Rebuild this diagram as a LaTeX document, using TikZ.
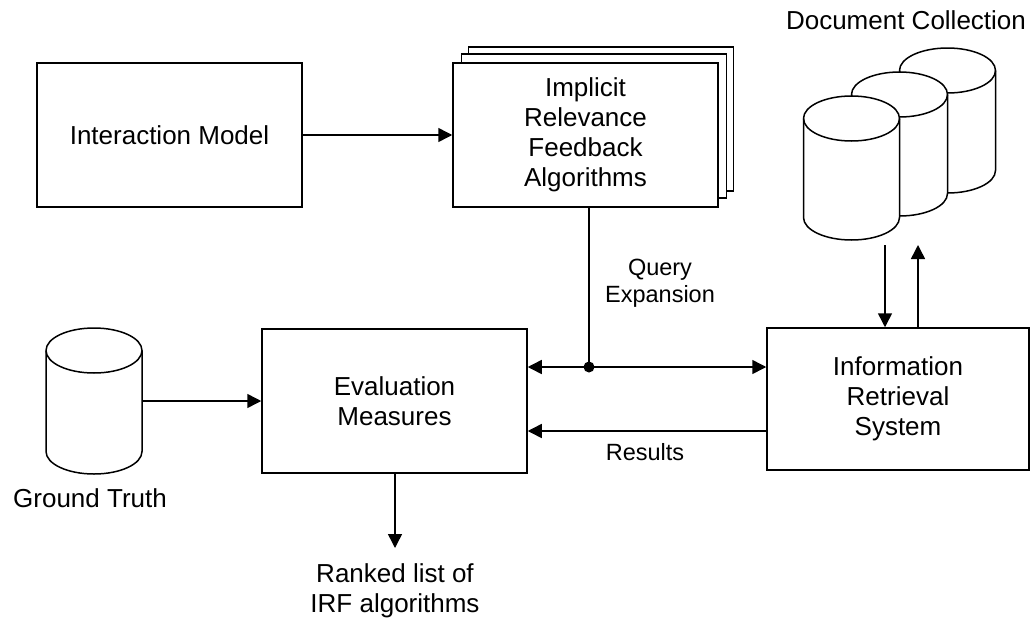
\documentclass[tikz,border=0pt]{standalone}
\usepackage{fontspec}
\setmainfont{Liberation Sans}
\usetikzlibrary{arrows.meta,calc}
\newcommand\dbcyl[4]{%
  \path[draw=black,line width=1.5pt,fill=white] (#1-48,#2) -- (#1-48,#3)
    arc[start angle=180,end angle=360,x radius=48,y radius=22.5] -- (#1+48,#2)
    arc[start angle=0,end angle=180,x radius=48,y radius=22.5] -- cycle;
  \draw[line width=1.5pt] (#1-48,#2) arc[start angle=180,end angle=360,x radius=48,y radius=22.5];
  \coordinate (#4) at (#1,#3);}
\begin{document}
\begin{tikzpicture}[x=1pt,y=1pt,
  box/.style={draw,line width=1.5pt,fill=white,minimum width=265pt,minimum height=144pt,inner sep=0pt,
    align=center,font=\fontsize{26}{30}\selectfont},
  lbl/.style={align=center,font=\fontsize{23.5}{27}\selectfont,inner sep=0pt},
  big/.style={align=center,font=\fontsize{26}{30.5}\selectfont,inner sep=0pt},
  arr/.style={line width=1.5pt,-{Triangle[length=14pt,width=14pt]}},
  darr/.style={line width=1.5pt,{Triangle[length=14pt,width=14pt]}-{Triangle[length=14pt,width=14pt]}},
  ln/.style={line width=1.5pt}]
\useasboundingbox (0,0) rectangle (1031,-624);
% boxes
\node[box] (im) at (169.5,-135) {Interaction Model};
\node[box] (irf3) at (601,-119) {};
\node[box] (irf2) at (594,-126) {};
\node[box] (irf) at (585.5,-135) {Implicit\\Relevance\\Feedback\\Algorithms};
\node[box] (ev) at (394.5,-401) {Evaluation\\Measures};
\node[box,minimum width=262pt,minimum height=142pt] (irs) at (898,-399) {Information\\Retrieval\\System};
% document collection cylinders
\dbcyl{947.5}{-70.5}{-170.5}{dc3}
\dbcyl{899.5}{-94.5}{-193.5}{dc2}
\dbcyl{851.5}{-118.5}{-217.5}{dc1}
\node[big] (dclbl) at (906,-20.5) {Document Collection};
% ground truth cylinder
\dbcyl{94}{-350.5}{-451.5}{gt}
\node[big] (gtlbl) at (90,-498) {Ground Truth};
% connectors
\draw[arr] (im.east) -- (irf.west);
\coordinate (gtout) at (142,-401);
\draw[arr] (gtout) -- (ev.west |- gtout);
\coordinate (qe) at (589,-367);
\draw[ln] (qe |- irf.south) -- (qe);
\draw[darr] (ev.east |- qe) -- (irs.west |- qe);
\fill (qe) circle (5.5);
\node[lbl] (qelbl) at (660,-283.5) {Query\\Expansion};
\coordinate (resy) at (0,-431);
\draw[arr] (irs.west |- resy) -- (ev.east |- resy);
\node[lbl] (reslbl) at (645,-452) {Results};
\coordinate (dcin) at (885,-245);
\coordinate (dcout) at (918,-245);
\draw[arr] (dcin) -- (dcin |- irs.north);
\draw[arr] (dcout |- irs.north) -- (dcout);
\node[big] (rank) at (395,-591) {Ranked list of\\IRF algorithms};
\draw[arr] (ev.south -| rank) -- (395,-548);
\end{tikzpicture}
\end{document}
